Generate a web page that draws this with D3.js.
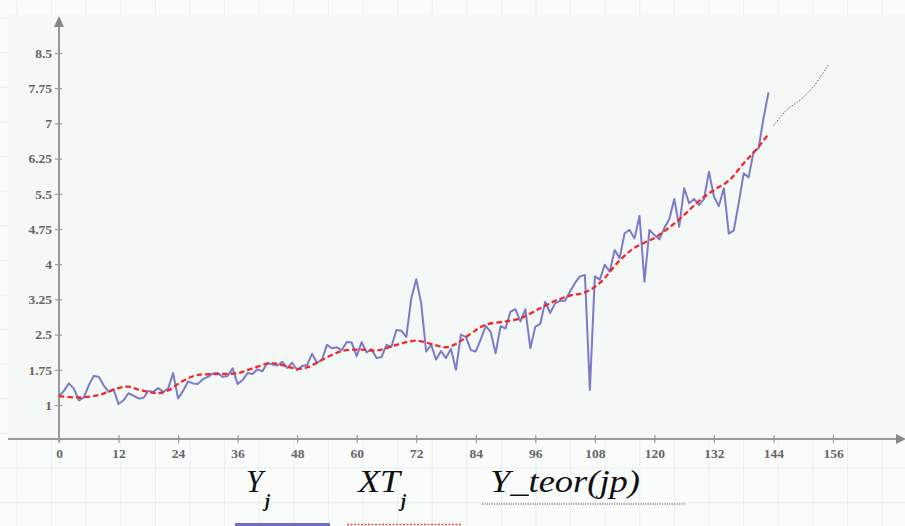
<!DOCTYPE html>
<html><head><meta charset="utf-8">
<script src="https://cdn.jsdelivr.net/npm/d3@7"></script>
<style>html,body{margin:0;padding:0;background:#fafcfb;}svg{display:block;}
.serif{font-family:"Liberation Serif","Times New Roman","DejaVu Serif",serif;}</style>
</head><body>
<svg id="c" width="905" height="526"></svg>
<script>
// ---- data ----
const yTicks = [1, 1.75, 2.5, 3.25, 4, 4.75, 5.5, 6.25, 7, 7.75, 8.5];
const xTicks = [0, 12, 24, 36, 48, 60, 72, 84, 96, 108, 120, 132, 144, 156];
const Yj = [1.19,1.3,1.46,1.35,1.1,1.16,1.42,1.62,1.6,1.42,1.28,1.33,1.02,1.1,1.25,1.2,1.14,1.15,1.3,1.28,
1.36,1.28,1.35,1.68,1.14,1.3,1.5,1.46,1.45,1.55,1.6,1.67,1.68,1.6,1.62,1.78,1.45,1.53,1.68,1.66,
1.76,1.72,1.9,1.86,1.84,1.92,1.79,1.9,1.74,1.83,1.85,2.09,1.9,1.96,2.28,2.21,2.23,2.17,2.34,2.33,
2.04,2.34,2.12,2.19,2.0,2.02,2.28,2.24,2.6,2.58,2.45,3.27,3.68,3.17,2.14,2.28,1.97,2.15,2.0,2.2,
1.75,2.5,2.45,2.17,2.14,2.4,2.68,2.56,2.1,2.68,2.63,2.99,3.04,2.78,3.04,2.21,2.67,2.73,3.2,2.96,
3.17,3.22,3.22,3.42,3.6,3.74,3.77,1.32,3.74,3.67,3.99,3.84,4.3,4.13,4.66,4.73,4.55,5.03,3.63,4.73,
4.62,4.53,4.77,4.96,5.39,4.8,5.62,5.3,5.39,5.26,5.39,5.97,5.44,5.24,5.62,4.65,4.72,5.3,5.94,5.85,
6.4,6.47,7.11,7.66];
const XT_j = [0,4,8,10,12,14,16,18,20,22,24,26,28,32,36,39,42,44,46,48,50,53,57,61,64,68,72,76,78,80,83,86,90,93,97,100,103,106,109,113,116,120,123,126,129,132,135,138,141,143];
const XT_v = [1.19,1.16,1.21,1.29,1.36,1.39,1.33,1.28,1.25,1.31,1.45,1.57,1.64,1.66,1.68,1.78,1.88,1.88,1.82,1.77,1.8,1.96,2.15,2.18,2.16,2.28,2.37,2.27,2.23,2.3,2.52,2.71,2.78,2.85,3.06,3.22,3.33,3.4,3.6,4.08,4.35,4.56,4.78,5.05,5.35,5.58,5.78,6.15,6.5,6.78];
const jp = [144,146.7,149.4,152.1,155.1];
const Yteor = [6.95,7.29,7.5,7.79,8.25];
const legendNames = ["Y", "XT", "Y_teor(jp)"];

// ---- chart ----
const svg = d3.select("#c");
const W = 905, H = 526;
const x = d3.scaleLinear().domain([0,156]).range([59,833]);
const y = d3.scaleLinear().domain([1,8.5]).range([405,53]);

// worksheet grid
const grid = svg.append("g").attr("stroke","#e6f0f3").attr("stroke-width",1);
for (let gx = 17; gx < W; gx += 34.6) grid.append("line").attr("x1",gx).attr("x2",gx).attr("y1",0).attr("y2",H);
for (let gy = 468; gy > 0; gy -= 34.6) grid.append("line").attr("x1",0).attr("x2",W).attr("y1",gy).attr("y2",gy);
for (let gy = 468+34.6; gy < H; gy += 34.6) grid.append("line").attr("x1",0).attr("x2",W).attr("y1",gy).attr("y2",gy);

// plot area background
svg.append("rect").attr("x",8).attr("y",15).attr("width",W-8).attr("height",424).attr("fill","#f4f8f6");

const axisColor = "#9a9a9a";
// y axis
const ya = svg.append("g").attr("transform","translate(59,0)")
  .call(d3.axisLeft(y).tickValues(yTicks).tickFormat(d3.format("")).tickSize(4));
ya.attr("font-family",null);
ya.select(".domain").remove();
ya.selectAll(".tick line").attr("x1",-4).attr("x2",3).attr("stroke",axisColor).attr("stroke-width",1.2);
ya.selectAll(".tick text").attr("class","serif").attr("x",-7).attr("fill","#666").attr("font-weight","bold").attr("font-size",13.5);
// x axis
const xa = svg.append("g").attr("transform","translate(0,439)")
  .call(d3.axisBottom(x).tickValues(xTicks).tickFormat(d3.format("d")).tickSize(4));
xa.attr("font-family",null);
xa.select(".domain").remove();
xa.selectAll(".tick line").attr("y1",-4).attr("y2",4).attr("stroke",axisColor).attr("stroke-width",1.2);
xa.selectAll(".tick text").attr("class","serif").attr("y",9).attr("fill","#666").attr("font-weight","bold").attr("font-size",13.5);

svg.append("line").attr("x1",8).attr("x2",900).attr("y1",439).attr("y2",439).attr("stroke",axisColor).attr("stroke-width",2);
svg.append("line").attr("x1",59).attr("x2",59).attr("y1",442).attr("y2",24).attr("stroke",axisColor).attr("stroke-width",2);
svg.append("path").attr("d","M59,16 L54,27 L64,27 Z").attr("fill","#888");
svg.append("path").attr("d","M906,439 L896,434 L896,444 Z").attr("fill","#888");

// series
const line = d3.line().x(d=>x(d[0])).y(d=>y(d[1]));
svg.append("path").datum(Yj.map((v,i)=>[i,v])).attr("d",line)
  .attr("fill","none").attr("stroke","#6e6ec4").attr("stroke-opacity",0.9).attr("stroke-width",2).attr("stroke-linejoin","round");
svg.append("path").datum(XT_j.map((j,i)=>[j,XT_v[i]])).attr("d",line.curve(d3.curveCatmullRom))
  .attr("fill","none").attr("stroke","#f02828").attr("stroke-width",2.3).attr("stroke-dasharray","5.5,3");
svg.append("path").datum(jp.map((j,i)=>[j,Yteor[i]])).attr("d",d3.line().x(d=>x(d[0])).y(d=>y(d[1])).curve(d3.curveCatmullRom))
  .attr("fill","none").attr("stroke","#666").attr("stroke-width",1).attr("stroke-dasharray","1.5,1.5");

// legend
const lg = svg.append("g").attr("class","serif").attr("fill","#111").attr("font-style","italic");
lg.append("text").attr("x",246).attr("y",492).attr("font-size",32).attr("textLength",17).attr("lengthAdjust","spacingAndGlyphs").text(legendNames[0]);
lg.append("text").attr("x",265).attr("y",507).attr("font-size",18).attr("font-weight","bold").text("j");
lg.append("text").attr("x",358).attr("y",492).attr("font-size",32).attr("textLength",42).attr("lengthAdjust","spacingAndGlyphs").text(legendNames[1]);
lg.append("text").attr("x",401).attr("y",507).attr("font-size",18).attr("font-weight","bold").text("j");
lg.append("text").attr("x",490).attr("y",492).attr("font-size",32).attr("textLength",150).attr("lengthAdjust","spacingAndGlyphs").text(legendNames[2]);
svg.append("line").attr("x1",482).attr("x2",686).attr("y1",504).attr("y2",504).attr("stroke","#555").attr("stroke-width",1).attr("stroke-dasharray","1.2,1.2");
svg.append("line").attr("x1",235).attr("x2",330).attr("y1",524.5).attr("y2",524.5).attr("stroke","#6e6ec4").attr("stroke-width",3);
svg.append("line").attr("x1",347).attr("x2",461).attr("y1",524.5).attr("y2",524.5).attr("stroke","#f04848").attr("stroke-width",1.5).attr("stroke-dasharray","2,1.5");
</script>
</body></html>
